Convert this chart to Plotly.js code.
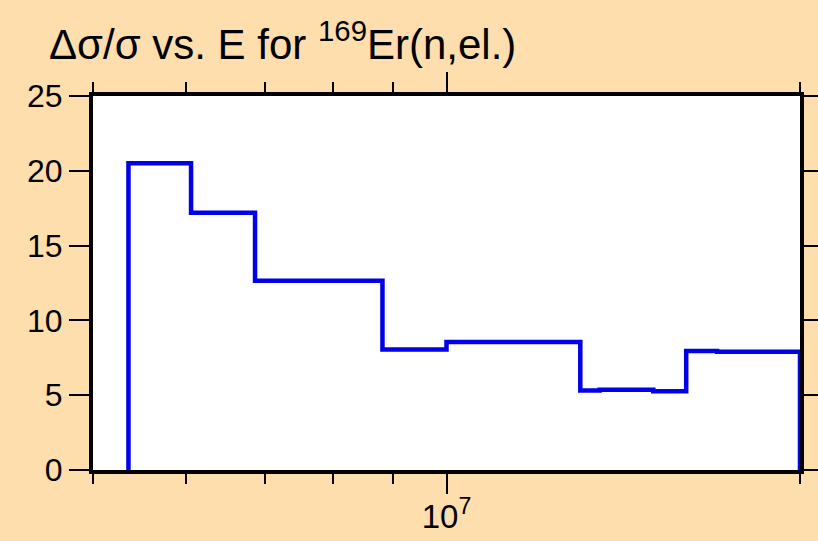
<!DOCTYPE html>
<html>
<head>
<meta charset="utf-8">
<script src="https://cdn.plot.ly/plotly-3.0.1.min.js"></script>
<style>
  html, body { margin: 0; padding: 0; background: #FFDEAD; }
  #chart { width: 818px; height: 541px; }
</style>
</head>
<body>
<div id="chart"></div>
<script>
// Bin edges (eV) and relative uncertainty (%) per bin
const energyEdges = [5.36e6, 6.06e6, 6.87e6, 8.82e6, 1.0e7, 1.30e7, 1.35e7, 1.50e7, 1.60e7, 1.70e7, 2.0e7];
const relUncert   = [20.5, 17.2, 12.65, 8.05, 8.55, 5.32, 5.36, 5.27, 7.95, 7.9];

// Axis ticks
const xMajorVals = [1e7];
const xMajorText = ['10<sup>7</sup>'];
const xMinorVals = [5e6, 6e6, 7e6, 8e6, 9e6, 2e7];
const yTickVals  = [0, 5, 10, 15, 20, 25];

// Build histogram outline (step) from edges and values
const xs = [energyEdges[0]];
const ys = [0];
for (let i = 0; i < relUncert.length; i++) {
  xs.push(energyEdges[i]);
  ys.push(relUncert[i]);
}
xs.push(energyEdges[energyEdges.length - 1]);
ys.push(relUncert[relUncert.length - 1]);
xs.push(energyEdges[energyEdges.length - 1]);
ys.push(0);

const trace = {
  x: xs, y: ys,
  type: 'scatter', mode: 'lines',
  line: { shape: 'hv', color: 'rgb(0,0,235)', width: 4.5 },
  hoverinfo: 'skip',
  cliponaxis: true
};

const fontFam = 'Liberation Sans, Arial, sans-serif';

const layout = {
  width: 818, height: 541,
  paper_bgcolor: '#FFDEAD',
  plot_bgcolor: '#FFFFFF',
  margin: { l: 93, r: 18, t: 96, b: 71 },
  showlegend: false,
  font: { family: fontFam, color: '#000', size: 31 },
  title: {
    text: '\u0394\u03c3/\u03c3 vs. E for <sup>169</sup>Er(n,el.)',
    font: { family: fontFam, size: 42, color: '#000' },
    xref: 'container', yref: 'container',
    x: 49 / 818, xanchor: 'left',
    y: 1 - 44 / 541, yanchor: 'middle'
  },
  xaxis: {
    type: 'log',
    range: [Math.log10(5e6), Math.log10(2e7)],
    tickmode: 'array', tickvals: xMajorVals, ticktext: xMajorText,
    ticks: 'outside', ticklen: 20, tickwidth: 2, tickcolor: '#000',
    showline: true, linewidth: 4, linecolor: '#000', mirror: 'ticks',
    showgrid: false, zeroline: false,
    tickfont: { family: fontFam, size: 33, color: '#000' },
    ticklabelstandoff: -6,
    minor: { tickmode: 'array', tickvals: xMinorVals, ticks: 'outside', ticklen: 10, tickwidth: 2, tickcolor: '#000', showgrid: false }
  },
  yaxis: {
    range: [0, 25],
    tickmode: 'array', tickvals: yTickVals,
    ticks: 'outside', ticklen: 20, tickwidth: 2, tickcolor: '#000',
    showline: true, linewidth: 4, linecolor: '#000', mirror: 'ticks',
    showgrid: false, zeroline: false,
    tickfont: { family: fontFam, size: 32, color: '#000' },
    ticklabelstandoff: 0
  }
};

Plotly.newPlot('chart', [trace], layout, { staticPlot: true, displayModeBar: false });
</script>
</body>
</html>
